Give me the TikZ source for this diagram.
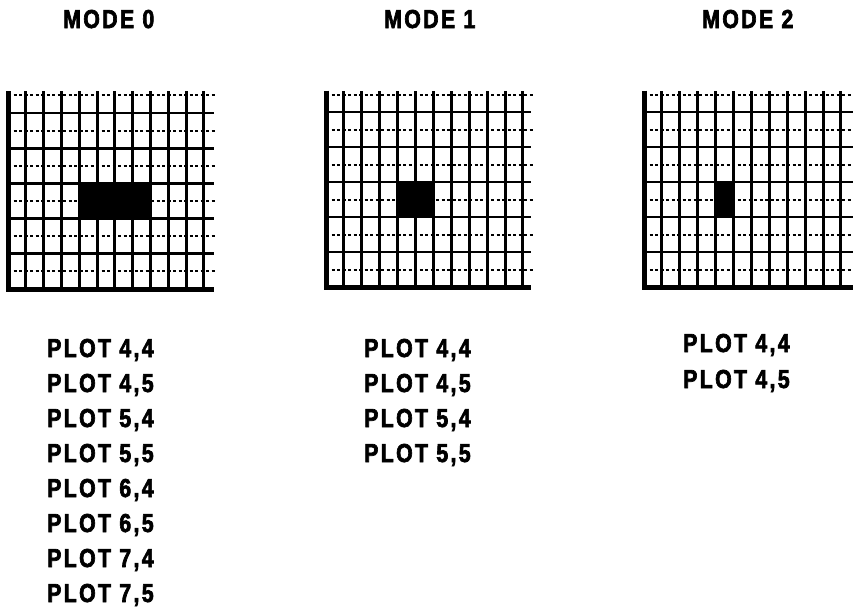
\documentclass[tikz,border=0pt]{standalone}
\usepackage{fontspec}
\setmainfont{Liberation Sans}[FakeStretch=0.82, LetterSpace=9, FakeBold=2.5]
\tikzset{
  vline/.style={line width=3pt},
  hline/.style={line width=2.8pt},
  dline/.style={line width=2pt, dash pattern=on 3pt off 2.5pt},
  border/.style={line width=5pt},
  lbl/.style={inner sep=0pt, anchor=base west, font=\fontsize{26}{30}\selectfont\bfseries},
  pix/.style={fill=black},
}
% #1 x0, #2 dx, #3 ybot, #4 dy, #5 xright, #6 number of black columns
\newcommand\mygrid[6]{%
  \fill[pix] ({#1+4*#2},{#3-4*#4}) rectangle ({#1+(4+#6)*#2},{#3-6*#4});
  \foreach \j in {1,3,...,11} \draw[dline] (#1,{#3-\j*#4}) -- ({#5+2},{#3-\j*#4});
  \foreach \j in {2,4,...,10} \draw[hline] (#1,{#3-\j*#4}) -- (#5,{#3-\j*#4});
  \foreach \i in {1,...,11} \draw[vline] ({#1+\i*#2},#3) -- ({#1+\i*#2},{#3-11*#4-4});
  \draw[border] (#1,{#3-11*#4-4}) -- (#1,#3) -- (#5,#3);
}
\begin{document}
\begin{tikzpicture}[x=1pt,y=-1pt]
\useasboundingbox[fill=white] (0,0) rectangle (853,606);
% grids
\mygrid{8}{17.8}{289}{17.6}{214}{4}
\mygrid{326}{17.9}{287}{17.5}{531}{2}
\mygrid{644}{17.9}{287}{17.5}{853}{1}
% titles
\node[lbl] (m0) at (63,28) {MODE 0};
\node[lbl] (m1) at (384,28) {MODE 1};
\node[lbl] (m2) at (702,28) {MODE 2};
% column 1
\node[lbl] (a1) at (47,357) {PLOT 4,4};
\node[lbl] (a2) at (47,392) {PLOT 4,5};
\node[lbl] (a3) at (47,427) {PLOT 5,4};
\node[lbl] (a4) at (47,462) {PLOT 5,5};
\node[lbl] (a5) at (47,497) {PLOT 6,4};
\node[lbl] (a6) at (47,532) {PLOT 6,5};
\node[lbl] (a7) at (47,567) {PLOT 7,4};
\node[lbl] (a8) at (47,602) {PLOT 7,5};
% column 2
\node[lbl] (b1) at (364,357) {PLOT 4,4};
\node[lbl] (b2) at (364,392) {PLOT 4,5};
\node[lbl] (b3) at (364,427) {PLOT 5,4};
\node[lbl] (b4) at (364,462) {PLOT 5,5};
% column 3
\node[lbl] (c1) at (683,352) {PLOT 4,4};
\node[lbl] (c2) at (683,388) {PLOT 4,5};
\end{tikzpicture}
\end{document}
